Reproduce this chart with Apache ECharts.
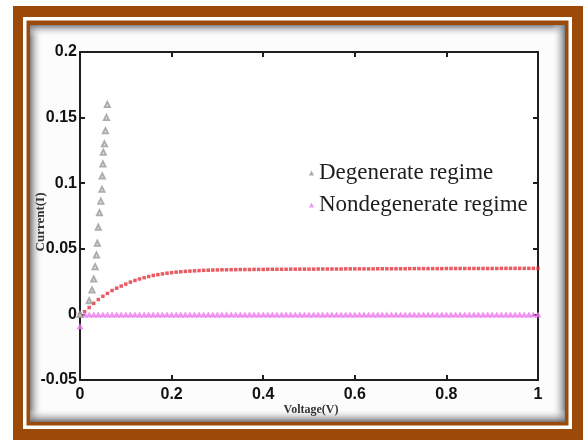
<!DOCTYPE html>
<html><head><meta charset="utf-8">
<script src="https://cdn.jsdelivr.net/npm/echarts@6/dist/echarts.min.js"></script>
<style>html,body{margin:0;padding:0;background:#fff}#c{width:583px;height:440px}</style>
</head><body><div id="c"></div>
<script>
// Axis ticks
const xTicks = [0, 0.2, 0.4, 0.6, 0.8, 1];
const yTicks = [-0.05, 0, 0.05, 0.1, 0.15, 0.2];
const xTitle = 'Voltage(V)';
const yTitle = 'Current(I)';

// Degenerate regime (gray triangles)
const degVoltage = [0, 0.020, 0.0263, 0.030, 0.033, 0.0359, 0.0378, 0.040, 0.0425, 0.0455, 0.048, 0.0486, 0.050, 0.0509, 0.0533, 0.0555, 0.0578, 0.0597];
const degCurrent = [0, 0.0104, 0.0186, 0.027, 0.0364, 0.0453, 0.0542, 0.0664, 0.0775, 0.0863, 0.0953, 0.1055, 0.1146, 0.1236, 0.130, 0.140, 0.150, 0.160];

// Voltage sweep for the dense curves
const sweepVoltage = [
  0, 0.01, 0.02, 0.03, 0.04, 0.05, 0.06, 0.07, 0.08, 0.09,
  0.10, 0.11, 0.12, 0.13, 0.14, 0.15, 0.16, 0.17, 0.18, 0.19,
  0.20, 0.21, 0.22, 0.23, 0.24, 0.25, 0.26, 0.27, 0.28, 0.29,
  0.30, 0.31, 0.32, 0.33, 0.34, 0.35, 0.36, 0.37, 0.38, 0.39,
  0.40, 0.41, 0.42, 0.43, 0.44, 0.45, 0.46, 0.47, 0.48, 0.49,
  0.50, 0.51, 0.52, 0.53, 0.54, 0.55, 0.56, 0.57, 0.58, 0.59,
  0.60, 0.61, 0.62, 0.63, 0.64, 0.65, 0.66, 0.67, 0.68, 0.69,
  0.70, 0.71, 0.72, 0.73, 0.74, 0.75, 0.76, 0.77, 0.78, 0.79,
  0.80, 0.81, 0.82, 0.83, 0.84, 0.85, 0.86, 0.87, 0.88, 0.89,
  0.90, 0.91, 0.92, 0.93, 0.94, 0.95, 0.96, 0.97, 0.98, 0.99,
  1.00
];

// Red saturating curve (no legend entry)
const redCurrent = [
  0, 0.0021, 0.0052, 0.0084, 0.0113, 0.0138, 0.0160, 0.0182, 0.0200, 0.0216,
  0.0231, 0.0246, 0.0259, 0.0270, 0.0280, 0.0289, 0.0297, 0.0303, 0.0309, 0.0314,
  0.0318, 0.0322, 0.0325, 0.0328, 0.0330, 0.0332, 0.0334, 0.0336, 0.0337, 0.0338,
  0.0339, 0.0340, 0.0340, 0.0341, 0.0341, 0.0342, 0.0342, 0.0342, 0.0343, 0.0343,
  0.0343, 0.0344, 0.0344, 0.0344, 0.0344, 0.0344, 0.0345, 0.0345, 0.0345, 0.0345,
  0.0345, 0.0345, 0.0346, 0.0346, 0.0346, 0.0346, 0.0346, 0.0346, 0.0347, 0.0347,
  0.0347, 0.0347, 0.0347, 0.0347, 0.0347, 0.0348, 0.0348, 0.0348, 0.0348, 0.0348,
  0.0348, 0.0348, 0.0349, 0.0349, 0.0349, 0.0349, 0.0349, 0.0349, 0.0349, 0.0349,
  0.0350, 0.0350, 0.0350, 0.0350, 0.0350, 0.0350, 0.0350, 0.0350, 0.0350, 0.0350,
  0.0350, 0.0350, 0.0351, 0.0351, 0.0351, 0.0351, 0.0351, 0.0351, 0.0351, 0.0351,
  0.0351
];

// Nondegenerate regime (pink triangles)
const nondegCurrent = [
  -0.009, 0, 0, 0, 0, 0, 0, 0, 0, 0,
  0, 0, 0, 0, 0, 0, 0, 0, 0, 0,
  0, 0, 0, 0, 0, 0, 0, 0, 0, 0,
  0, 0, 0, 0, 0, 0, 0, 0, 0, 0,
  0, 0, 0, 0, 0, 0, 0, 0, 0, 0,
  0, 0, 0, 0, 0, 0, 0, 0, 0, 0,
  0, 0, 0, 0, 0, 0, 0, 0, 0, 0,
  0, 0, 0, 0, 0, 0, 0, 0, 0, 0,
  0, 0, 0, 0, 0, 0, 0, 0, 0, 0,
  0, 0, 0, 0, 0, 0, 0, 0, 0, 0,
  0
];

const seriesNames = ['Degenerate regime', 'Nondegenerate regime'];

const BROWN = '#9b4a0a';
const labelFont = "'Liberation Sans', Arial, sans-serif";
const serif = "'Liberation Serif', 'Times New Roman', serif";

function fmt(v) {
  let best = v;
  for (const t of xTicks.concat(yTicks)) if (Math.abs(t - v) < 1e-9) best = t;
  return String(best);
}

const axisLineStyle = { color: '#1e1e1e', width: 2 };
const tickStyle = { inside: true, length: 5, lineStyle: { color: '#1e1e1e', width: 2 } };

function edge(x, y, w, h, gx, gy, gx2, gy2, c) {
  return {
    type: 'rect', z: -5, silent: true,
    shape: { x, y, width: w, height: h },
    style: { fill: new echarts.graphic.LinearGradient(gx, gy, gx2, gy2, [
      { offset: 0, color: c }, { offset: 1, color: 'rgba(255,255,255,0)' }]) }
  };
}

const chart = echarts.init(document.getElementById('c'), null, { renderer: 'canvas' });
chart.setOption({
  animation: false,
  backgroundColor: '#ffffff',
  graphic: [
    { type: 'rect', z: -10, silent: true, shape: { x: 13, y: 6, width: 570, height: 434 }, style: { fill: BROWN } },
    { type: 'rect', z: -9, silent: true, shape: { x: 23, y: 17, width: 549, height: 412 }, style: { fill: '#ffffff' } },
    { type: 'rect', z: -8, silent: true, shape: { x: 26.5, y: 20.5, width: 542, height: 405 }, style: { fill: BROWN } },
    { type: 'rect', z: -7, silent: true, shape: { x: 30, y: 25, width: 535, height: 397 }, style: { fill: '#fcfcfd' } },
    edge(30, 25, 13, 397, 0, 0, 1, 0, 'rgba(120,120,126,0.95)'),
    edge(30, 25, 535, 12, 0, 0, 0, 1, 'rgba(120,120,126,0.95)'),
    edge(552, 25, 13, 397, 1, 0, 0, 0, 'rgba(115,120,128,0.95)'),
    edge(30, 409, 535, 13, 0, 1, 0, 0, 'rgba(105,105,110,0.95)'),
    { type: 'text', z: 5, silent: true, x: 311, y: 410,
      style: { text: xTitle, fontFamily: serif, fontSize: 12, fontWeight: 'bold', fill: '#333', align: 'center', verticalAlign: 'middle' } },
    { type: 'text', z: 5, silent: true, x: 41, y: 222, rotation: Math.PI / 2,
      style: { text: yTitle, fontFamily: serif, fontSize: 13, fontWeight: 'bold', fill: '#333', align: 'center', verticalAlign: 'middle' } }
  ],
  grid: { left: 80, right: 45, top: 52, bottom: 60, show: true, backgroundColor: '#ffffff', borderWidth: 0 },
  legend: {
    orient: 'vertical', left: 309, top: 161, padding: 0,
    itemWidth: 5, itemHeight: 5, itemGap: 8, selectedMode: false,
    data: [
      { name: seriesNames[0], icon: 'triangle', itemStyle: { color: '#959595', borderWidth: 0 } },
      { name: seriesNames[1], icon: 'triangle', itemStyle: { color: '#f07cf0', borderWidth: 0 } }
    ],
    textStyle: { fontFamily: serif, fontSize: 23, color: '#1e1e1e', lineHeight: 24 }
  },
  xAxis: [
    {
      type: 'value', min: 0, max: 1, interval: 0.2, position: 'bottom',
      axisLine: { show: true, onZero: false, lineStyle: axisLineStyle }, axisTick: tickStyle,
      splitLine: { show: false },
      axisLabel: { formatter: fmt, fontFamily: labelFont, fontSize: 16, fontWeight: 'bold', color: '#111', margin: 7 }
    },
    {
      type: 'value', min: 0, max: 1, interval: 0.2, position: 'top',
      axisLine: { show: true, onZero: false, lineStyle: axisLineStyle }, axisTick: tickStyle,
      splitLine: { show: false }, axisLabel: { show: false }
    }
  ],
  yAxis: [
    {
      type: 'value', min: -0.05, max: 0.2, interval: 0.05, position: 'left',
      axisLine: { show: true, onZero: false, lineStyle: axisLineStyle }, axisTick: tickStyle,
      splitLine: { show: false },
      axisLabel: { formatter: fmt, fontFamily: labelFont, fontSize: 16, fontWeight: 'bold', color: '#111', margin: 3 }
    },
    {
      type: 'value', min: -0.05, max: 0.2, interval: 0.05, position: 'right',
      axisLine: { show: true, onZero: false, lineStyle: axisLineStyle }, axisTick: tickStyle,
      splitLine: { show: false }, axisLabel: { show: false }
    }
  ],
  series: [
    {
      name: 'fit', type: 'scatter', xAxisIndex: 0, yAxisIndex: 0,
      symbol: 'rect', symbolSize: 3.5,
      itemStyle: { color: '#e4323c' },
      data: sweepVoltage.map((v, i) => [v, redCurrent[i]]), z: 2
    },
    {
      name: seriesNames[1], type: 'scatter', xAxisIndex: 0, yAxisIndex: 0,
      symbol: 'triangle', symbolSize: [7, 6],
      itemStyle: { color: '#ee78ee' },
      data: sweepVoltage.map((v, i) => [v, nondegCurrent[i]]), z: 3
    },
    {
      name: seriesNames[0], type: 'scatter', xAxisIndex: 0, yAxisIndex: 0,
      symbol: 'emptyTriangle', symbolSize: 5,
      itemStyle: { color: '#999999', borderWidth: 1 },
      data: degVoltage.map((v, i) => [v, degCurrent[i]]), z: 4
    }
  ]
});
</script>
</body></html>
